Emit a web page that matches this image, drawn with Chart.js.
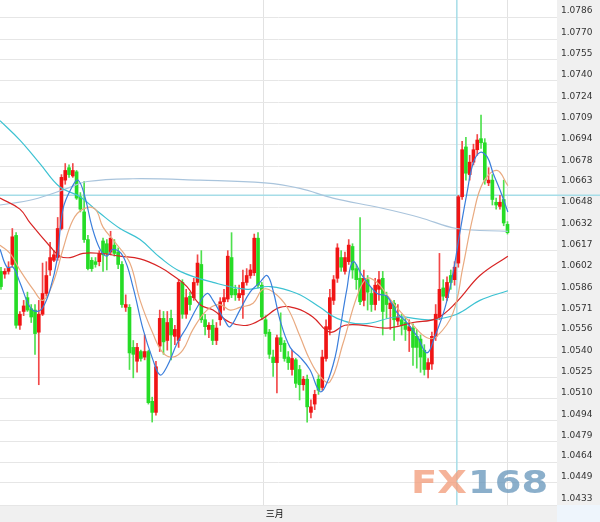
<!DOCTYPE html>
<html>
<head>
<meta charset="utf-8">
<script src="https://cdn.jsdelivr.net/npm/chart.js@4.4.1/dist/chart.umd.min.js"></script>
<style>
html, body { margin: 0; padding: 0; background: #fff; }
#wrap { width: 600px; height: 522px; }
</style>
</head>
<body>
<div id="wrap"><canvas id="graph" width="600" height="522"></canvas></div>
<script>
// OHLC candles, oldest first
const opens = [1.0602,1.0600,1.0602,1.0607,1.0628,1.0563,1.0573,1.0583,1.0575,1.0574,
  1.0558,1.0571,1.0586,1.0603,1.0610,1.0612,1.0633,1.0668,1.0677,1.0671,
  1.0674,1.0656,1.0645,1.0625,1.0610,1.0609,1.0609,1.0624,1.0622,1.0616,
  1.0621,1.0616,1.0607,1.0576,1.0576,1.0547,1.0537,1.0544,1.0540,1.0544,
  1.0508,1.0500,1.0548,1.0568,1.0552,1.0568,1.0555,1.0552,1.0594,1.0571,
  1.0584,1.0583,1.0594,1.0607,1.0567,1.0560,1.0563,1.0552,1.0567,1.0580,
  1.0582,1.0612,1.0589,1.0583,1.0585,1.0594,1.0599,1.0601,1.0626,1.0592,
  1.0567,1.0558,1.0540,1.0536,1.0554,1.0550,1.0540,1.0531,1.0538,1.0531,
  1.0520,1.0524,1.0500,1.0506,1.0524,1.0518,1.0539,1.0560,1.0581,1.0597,
  1.0612,1.0602,1.0609,1.0620,1.0604,1.0597,1.0581,1.0596,1.0586,1.0578,
  1.0589,1.0597,1.0584,1.0575,1.0579,1.0566,1.0567,1.0565,1.0559,1.0561,
  1.0555,1.0553,1.0545,1.0531,1.0535,1.0555,1.0569,1.0590,1.0583,1.0599,
  1.0596,1.0608,1.0656,1.0692,1.0672,1.0681,1.0690,1.0698,1.0695,1.0666,
  1.0668,1.0652,1.0649,1.0654,1.0636];
const highs = [1.0605,1.0604,1.0609,1.0633,1.0630,1.0573,1.0581,1.0587,1.0578,1.0578,
  1.0581,1.0608,1.0609,1.0623,1.0617,1.0641,1.0672,1.0680,1.0679,1.0680,
  1.0675,1.0659,1.0667,1.0628,1.0612,1.0612,1.0617,1.0626,1.0625,1.0631,
  1.0625,1.0619,1.0609,1.0585,1.0578,1.0552,1.0550,1.0545,1.0556,1.0545,
  1.0511,1.0537,1.0574,1.0573,1.0573,1.0574,1.0563,1.0596,1.0596,1.0589,
  1.0587,1.0597,1.0614,1.0617,1.0571,1.0565,1.0567,1.0565,1.0583,1.0589,
  1.0617,1.0630,1.0592,1.0592,1.0603,1.0604,1.0607,1.0629,1.0630,1.0594,
  1.0570,1.0560,1.0545,1.0556,1.0572,1.0552,1.0544,1.0545,1.0539,1.0534,
  1.0526,1.0527,1.0509,1.0516,1.0527,1.0545,1.0567,1.0589,1.0599,1.0622,
  1.0617,1.0616,1.0625,1.0622,1.0607,1.0641,1.0603,1.0599,1.0590,1.0597,
  1.0602,1.0602,1.0587,1.0581,1.0581,1.0578,1.0571,1.0568,1.0567,1.0564,
  1.0560,1.0556,1.0549,1.0539,1.0558,1.0578,1.0615,1.0596,1.0598,1.0603,
  1.0609,1.0657,1.0696,1.0699,1.0686,1.0694,1.0701,1.0715,1.0698,1.0677,
  1.0672,1.0655,1.0657,1.0668,1.0638];
const lows = [1.0589,1.0597,1.0600,1.0605,1.0561,1.0560,1.0570,1.0573,1.0565,1.0542,
  1.0520,1.0570,1.0584,1.0599,1.0609,1.0610,1.0632,1.0665,1.0670,1.0670,
  1.0654,1.0645,1.0623,1.0603,1.0602,1.0605,1.0606,1.0602,1.0603,1.0614,
  1.0613,1.0604,1.0576,1.0573,1.0531,1.0525,1.0529,1.0537,1.0538,1.0506,
  1.0493,1.0498,1.0544,1.0542,1.0545,1.0538,1.0549,1.0547,1.0568,1.0568,
  1.0574,1.0581,1.0592,1.0565,1.0556,1.0554,1.0549,1.0549,1.0563,1.0574,
  1.0580,1.0583,1.0581,1.0581,1.0568,1.0592,1.0597,1.0599,1.0590,1.0567,
  1.0555,1.0539,1.0526,1.0514,1.0544,1.0537,1.0531,1.0527,1.0518,1.0509,
  1.0516,1.0493,1.0496,1.0502,1.0513,1.0516,1.0537,1.0556,1.0578,1.0594,
  1.0602,1.0600,1.0607,1.0597,1.0589,1.0578,1.0577,1.0574,1.0573,1.0574,
  1.0581,1.0556,1.0568,1.0560,1.0552,1.0563,1.0556,1.0552,1.0544,1.0534,
  1.0532,1.0529,1.0527,1.0525,1.0531,1.0552,1.0567,1.0581,1.0581,1.0589,
  1.0592,1.0605,1.0654,1.0668,1.0668,1.0679,1.0686,1.0691,1.0665,1.0664,
  1.0650,1.0647,1.0647,1.0635,1.0629];
const closes = [1.0591,1.0602,1.0605,1.0627,1.0563,1.0571,1.0577,1.0574,1.0569,1.0557,
  1.0571,1.0586,1.0599,1.0612,1.0614,1.0633,1.0670,1.0675,1.0672,1.0675,
  1.0655,1.0647,1.0625,1.0604,1.0604,1.0607,1.0615,1.0614,1.0615,1.0626,
  1.0615,1.0607,1.0578,1.0578,1.0543,1.0542,1.0547,1.0539,1.0544,1.0507,
  1.0500,1.0533,1.0568,1.0551,1.0565,1.0556,1.0560,1.0594,1.0571,1.0583,
  1.0578,1.0594,1.0608,1.0567,1.0562,1.0563,1.0552,1.0561,1.0580,1.0583,
  1.0613,1.0585,1.0585,1.0586,1.0594,1.0599,1.0603,1.0626,1.0592,1.0569,
  1.0557,1.0542,1.0536,1.0554,1.0549,1.0539,1.0536,1.0539,1.0521,1.0520,
  1.0524,1.0504,1.0504,1.0513,1.0516,1.0540,1.0562,1.0583,1.0596,1.0619,
  1.0605,1.0612,1.0621,1.0603,1.0596,1.0580,1.0597,1.0587,1.0578,1.0592,
  1.0596,1.0573,1.0578,1.0579,1.0567,1.0569,1.0563,1.0560,1.0562,1.0547,
  1.0547,1.0540,1.0531,1.0536,1.0555,1.0571,1.0589,1.0584,1.0594,1.0594,
  1.0605,1.0656,1.0690,1.0673,1.0681,1.0690,1.0697,1.0695,1.0668,1.0668,
  1.0654,1.0650,1.0652,1.0637,1.0630];

// moving averages: [candle index, price]
const maFast = [[-0.26,1.0618],[1.6,1.0605],[3.2,1.0605],[5.0,1.0594],[7.7,1.0576],[9.5,1.0573],
  [11.1,1.0576],[13.0,1.0589],[14.8,1.0610],[16.4,1.0647],[18.8,1.0663],[20.4,1.0668],
  [22.2,1.0656],[24.1,1.0634],[26.2,1.0618],[28.0,1.0613],[29.6,1.0618],[32.3,1.0613],
  [34.9,1.0591],[37.6,1.0560],[40.2,1.0538],[42.1,1.0527],[43.9,1.0533],[46.6,1.0550],
  [49.2,1.0562],[51.9,1.0576],[54.5,1.0586],[56.1,1.0581],[59.3,1.0566],[60.6,1.0562],
  [63.2,1.0574],[65.9,1.0587],[68.5,1.0594],[70.4,1.0599],[72.0,1.0588],[73.8,1.0567],
  [76.5,1.0547],[79.1,1.0540],[81.7,1.0531],[84.4,1.0515],[86.2,1.0521],[88.4,1.0540],
  [89.7,1.0560],[91.5,1.0589],[93.1,1.0609],[95.8,1.0598],[99.5,1.0586],[102.1,1.0584],
  [104.8,1.0572],[107.4,1.0565],[110.1,1.0555],[112.7,1.0543],[114.8,1.0555],[117.5,1.0576],
  [119.6,1.0601],[121.4,1.0630],[123.3,1.0659],[124.9,1.0680],[126.7,1.0688],[128.6,1.0685],
  [130.2,1.0673],[132.0,1.0661],[134.1,1.0645]];
const maMid = [[-0.26,1.0621],[2.4,1.0615],[5.0,1.0603],[8.5,1.0589],[11.1,1.0581],[13.8,1.0594],
  [16.4,1.0618],[19.0,1.0639],[21.7,1.0647],[24.9,1.0647],[27.0,1.0634],[30.2,1.0623],
  [34.1,1.0608],[36.8,1.0581],[40.2,1.0557],[42.9,1.0543],[45.5,1.0540],[48.1,1.0545],
  [50.8,1.0560],[54.5,1.0574],[57.9,1.0578],[60.6,1.0574],[63.2,1.0576],[66.7,1.0579],
  [69.3,1.0589],[72.0,1.0587],[75.7,1.0576],[79.1,1.0555],[81.7,1.0538],[84.4,1.0526],
  [87.0,1.0522],[90.5,1.0550],[94.2,1.0584],[96.8,1.0597],[99.5,1.0594],[102.1,1.0585],
  [105.6,1.0573],[109.0,1.0563],[112.7,1.0554],[115.3,1.0555],[119.6,1.0572],[122.2,1.0605],
  [124.9,1.0642],[127.5,1.0666],[131.2,1.0675],[134.1,1.0664]];
const maSlow = [[-0.26,1.0655],[5.0,1.0647],[7.7,1.0637],[13.0,1.0620],[15.6,1.0613],[18.3,1.0612],
  [21.7,1.0615],[26.2,1.0615],[31.5,1.0613],[36.8,1.0611],[42.1,1.0605],[45.5,1.0599],
  [49.2,1.0591],[52.6,1.0578],[56.1,1.0574],[60.6,1.0565],[65.1,1.0563],[69.3,1.0568],
  [73.8,1.0576],[78.3,1.0575],[82.5,1.0569],[87.0,1.0558],[91.0,1.0563],[95.8,1.0563],
  [102.1,1.0561],[109.0,1.0565],[115.3,1.0568],[120.6,1.0580],[126.7,1.0599],[134.1,1.0613]];
const maLong = [[-0.26,1.0711],[5.0,1.0697],[10.3,1.0680],[15.6,1.0663],[20.9,1.0656],[26.2,1.0644],
  [31.5,1.0633],[36.8,1.0625],[42.1,1.0612],[47.4,1.0602],[56.1,1.0594],[65.1,1.0589],
  [71.2,1.0591],[78.3,1.0586],[84.4,1.0576],[88.9,1.0568],[95.8,1.0564],[104.8,1.0569],
  [113.5,1.0567],[120.6,1.0571],[126.7,1.0581],[134.1,1.0588]];
const maVeryLong = [[-0.26,1.0650],[8.5,1.0654],[17.5,1.0662],[22.8,1.0667],[34.9,1.0669],
  [52.6,1.0668],[69.8,1.0666],[79.1,1.0662],[87.8,1.0655],[100.3,1.0648],[110.8,1.0641],
  [120.6,1.0633],[134.1,1.0631]];

const yTickLabels = ['1.0786','1.0770','1.0755','1.0740','1.0724','1.0709','1.0694','1.0678',
  '1.0663','1.0648','1.0632','1.0617','1.0602','1.0586','1.0571','1.0556','1.0540','1.0525',
  '1.0510','1.0494','1.0479','1.0464','1.0449','1.0433'];
const xTickPositions = [69.5, 134];
const xTickLabels = ['三月', ''];

// crosshair
const crossIndex = 120.6;
const crossPrice = 1.0657;

const UP = '#f01414', DOWN = '#26dc26';
const candleColors = opens.map((o, i) => closes[i] >= o ? UP : DOWN);
const wickColors = opens.map((o, i) => closes[i] >= o ? '#f24848' : '#4ee04e');

const toPts = arr => arr.map(p => ({ x: p[0], y: p[1] }));
const maLine = (arr, color) => ({
  type: 'line',
  data: toPts(arr),
  borderColor: color,
  borderWidth: 1.2,
  pointRadius: 0,
  tension: 0.4,
  order: 0,
});

const frame = {
  id: 'frame',
  beforeDraw(chart) {
    const { ctx, chartArea: a, width, height } = chart;
    ctx.save();
    ctx.fillStyle = '#f0f0f0';
    ctx.fillRect(0, 0, width, height);
    ctx.fillStyle = '#eef5fc';
    ctx.fillRect(a.right, a.bottom, width - a.right, height - a.bottom);
    ctx.fillStyle = '#ffffff';
    ctx.fillRect(a.left, a.top, a.right - a.left, a.bottom - a.top);
    ctx.restore();
  },
  beforeDatasetsDraw(chart) {
    const { ctx, chartArea: a, width, scales } = chart;
    const cx = scales.x.getPixelForValue(crossIndex);
    const cy = scales.y.getPixelForValue(crossPrice);
    ctx.save();
    ctx.strokeStyle = '#a6dde8';
    ctx.lineWidth = 1.5;
    ctx.beginPath();
    ctx.moveTo(cx, a.top);
    ctx.lineTo(cx, a.bottom);
    ctx.moveTo(a.left, cy);
    ctx.lineTo(width, cy);
    ctx.stroke();
    ctx.restore();
  },
  afterDraw(chart) {
    const { ctx, chartArea: a } = chart;
    ctx.save();
    ctx.font = 'bold 32px "DejaVu Sans"';
    ctx.textBaseline = 'alphabetic';
    ctx.translate(a.right - 146, a.bottom - 12);
    ctx.scale(1.2, 1);
    ctx.fillStyle = 'rgba(242,160,128,0.8)';
    ctx.fillText('FX', 0, 0);
    const w = ctx.measureText('FX').width;
    ctx.fillStyle = 'rgba(110,155,190,0.8)';
    ctx.fillText('168', w + 1, 0);
    ctx.restore();
  }
};

const graph = document.getElementById('graph').getContext('2d');

let myChart = new Chart(graph, {
  type: 'bar',
  data: {
    datasets: [
      maLine(maFast, '#3a7edc'),
      maLine(maMid, '#e9aa80'),
      maLine(maSlow, '#d82424'),
      maLine(maLong, '#3cc2d2'),
      maLine(maVeryLong, '#a9c4dc'),
      {
        data: opens.map((o, i) => ({ x: i, y: [o, closes[i]] })),
        backgroundColor: candleColors,
        barThickness: 3,
        minBarLength: 1,
        grouped: false,
        order: 1,
      },
      {
        data: opens.map((o, i) => ({ x: i, y: [lows[i], highs[i]] })),
        backgroundColor: wickColors,
        barThickness: 1,
        grouped: false,
        order: 2,
      },
    ],
  },
  options: {
    responsive: false,
    animation: false,
    layout: { padding: 0 },
    plugins: {
      legend: { display: false },
      tooltip: { enabled: false },
    },
    scales: {
      x: {
        type: 'linear',
        min: -0.26,
        max: 147.1,
        offset: false,
        border: { display: false },
        grid: { color: '#e2e2e2', drawTicks: false, offset: false },
        afterBuildTicks: s => { s.ticks = xTickPositions.map(v => ({ value: v })); },
        afterFit: s => { s.height = 17; s.paddingLeft = 0; s.paddingRight = 0; },
        ticks: {
          callback: (v, i) => xTickLabels[i],
          autoSkip: false,
          maxRotation: 0,
          padding: 3,
          labelOffset: 11,
          color: '#111',
          font: { family: '"Noto Sans CJK SC"', size: 9 },
        },
      },
      y: {
        position: 'right',
        min: 1.0433,
        max: 1.07983,
        border: { display: false },
        grid: { color: '#e6e6e6', drawTicks: false },
        afterBuildTicks: s => { s.ticks = yTickLabels.map(t => ({ value: parseFloat(t) })); },
        afterFit: s => { s.width = 43; s.paddingTop = 0; s.paddingBottom = 0; },
        ticks: {
          callback: (v, i) => yTickLabels[i],
          padding: 4,
          labelOffset: -6,
          color: '#333',
          font: { family: '"DejaVu Sans"', size: 9 },
        },
      },
    },
  },
  plugins: [frame],
});
</script>
</body>
</html>
